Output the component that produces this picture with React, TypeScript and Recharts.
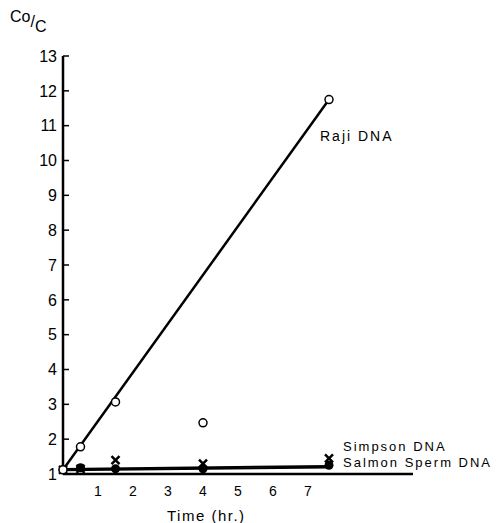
import React from "react";
import { ComposedChart, Line, Scatter, XAxis, YAxis } from "recharts";

// measured points (time in hr, Co/C)
const rajiPoints = [
	{ x: 0, y: 1.12 },
	{ x: 0.5, y: 1.78 },
	{ x: 1.5, y: 3.07 },
	{ x: 4, y: 2.47 },
	{ x: 7.6, y: 11.75 },
];
const simpsonPoints = [
	{ x: 0, y: 1.12 },
	{ x: 0.5, y: 1.15 },
	{ x: 1.5, y: 1.4 },
	{ x: 4, y: 1.3 },
	{ x: 7.6, y: 1.45 },
];
const salmonPoints = [
	{ x: 0, y: 1.12 },
	{ x: 0.5, y: 1.18 },
	{ x: 1.5, y: 1.15 },
	{ x: 4, y: 1.15 },
	{ x: 7.6, y: 1.25 },
];

// fitted lines
const rajiFit = [
	{ x: 0, y: 1.12 },
	{ x: 7.6, y: 11.75 },
];
const simpsonFit = [
	{ x: 0, y: 1.14 },
	{ x: 7.6, y: 1.23 },
];
const salmonFit = [
	{ x: 0, y: 1.11 },
	{ x: 7.6, y: 1.19 },
];

const xTicks = [1, 2, 3, 4, 5, 6, 7];
const yTicks = [1, 2, 3, 4, 5, 6, 7, 8, 9, 10, 11, 12, 13];

const FONT = "'Liberation Sans', Arial, sans-serif";

const OpenCircle = (props: any) => (
	<circle cx={props.cx} cy={props.cy} r={4} fill="#fff" stroke="#000" strokeWidth={1.5} />
);

const FilledDot = (props: any) => (
	<circle cx={props.cx} cy={props.cy} r={4.5} fill="#000" />
);

const Cross = (props: any) => {
	const { cx, cy } = props;
	const s = 4;
	return (
		<path
			d={`M${cx - s},${cy - s}L${cx + s},${cy + s}M${cx + s},${cy - s}L${cx - s},${cy + s}`}
			stroke="#000"
			strokeWidth={2.5}
		/>
	);
};

// y ticks point inward, labels sit outside
const YTick = (props: any) => {
	const { x, y, payload } = props;
	return (
		<g>
			<line x1={x} y1={y} x2={x + 6} y2={y} stroke="#000" strokeWidth={1.5} />
			<text x={x - 6} y={y} dy="0.36em" textAnchor="end" fontSize={16} fontFamily={FONT} fill="#000">
				{payload.value}
			</text>
		</g>
	);
};

const note: React.CSSProperties = {
	position: "absolute",
	fontFamily: FONT,
	fontSize: 13,
	letterSpacing: 2,
	color: "#000",
	whiteSpace: "nowrap",
	lineHeight: "12px",
};

export default function App() {
	return (
		<div style={{ position: "absolute", left: 0, top: 0, width: 499, height: 523, background: "#fff" }}>
			<ComposedChart
				width={499}
				height={523}
				margin={{ top: 56, right: 86, bottom: 19, left: 23 }}
			>
				<XAxis
					dataKey="x"
					type="number"
					domain={[0, 10]}
					ticks={xTicks}
					tickLine={false}
					tickMargin={6}
					height={30}
					axisLine={{ stroke: "#000", strokeWidth: 2.5 }}
					tick={{ fill: "#000", fontSize: 14, fontFamily: FONT }}
				/>
				<YAxis
					dataKey="y"
					type="number"
					domain={[1, 13]}
					ticks={yTicks}
					width={40}
					tickLine={false}
					tickSize={0}
					tickMargin={0}
					axisLine={{ stroke: "#000", strokeWidth: 2.5 }}
					tick={<YTick />}
				/>
				<Line data={rajiFit} dataKey="y" stroke="#000" strokeWidth={2.5} dot={false} isAnimationActive={false} />
				<Line data={simpsonFit} dataKey="y" stroke="#000" strokeWidth={2} dot={false} isAnimationActive={false} />
				<Line data={salmonFit} dataKey="y" stroke="#000" strokeWidth={2} dot={false} isAnimationActive={false} />
				<Scatter data={salmonPoints} dataKey="y" shape={<FilledDot />} isAnimationActive={false} />
				<Scatter data={simpsonPoints} dataKey="y" shape={<Cross />} isAnimationActive={false} />
				<Scatter data={rajiPoints} dataKey="y" shape={<OpenCircle />} isAnimationActive={false} />
			</ComposedChart>

			<div style={{ position: "absolute", left: 10, top: 8, fontFamily: FONT, fontSize: 16, color: "#000" }}>
				<span>Co</span>
				<span style={{ position: "relative", top: 5 }}>/</span>
				<span style={{ position: "relative", top: 10 }}>C</span>
			</div>

			<div style={{ ...note, left: 320, top: 129, fontSize: 14, lineHeight: "14px" }}>Raji DNA</div>
			<div style={{ ...note, left: 343, top: 441 }}>Simpson DNA</div>
			<div style={{ ...note, left: 343, top: 457 }}>Salmon Sperm DNA</div>
			<div style={{ ...note, left: 167, top: 508, fontSize: 15, letterSpacing: 1.5, lineHeight: "15px" }}>Time (hr.)</div>
		</div>
	);
}
